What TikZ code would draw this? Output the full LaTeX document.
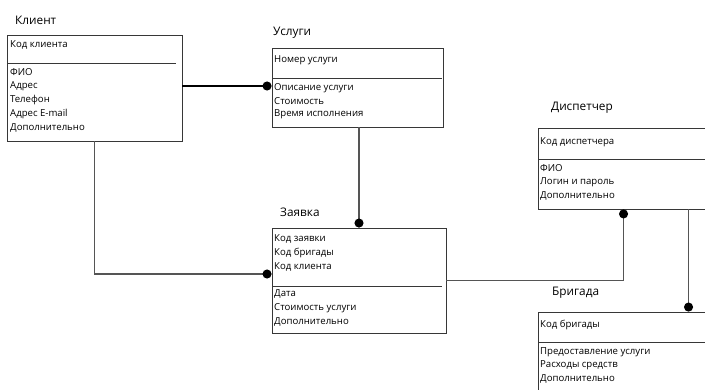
\documentclass[tikz,border=0pt]{standalone}
\usepackage{fontspec}
\setmainfont{Open Sans}
\usetikzlibrary{positioning,calc,arrows.meta}
\definecolor{linegray}{RGB}{85,85,85}
\definecolor{boxgray}{RGB}{55,55,55}

\begin{document}
\begin{tikzpicture}[x=1pt, y=-1pt,
  ent/.style={rectangle, draw=boxgray, line width=0.9pt, inner sep=0pt},
  ttl/.style={font=\fontsize{11.8}{14}\selectfont, anchor=west, inner sep=0pt},
  attr/.style={font=\fontsize{9.6}{11}\selectfont, anchor=west, inner sep=0pt},
  sepline/.style={boxgray, line width=0.9pt},
  rel/.style={linegray, line width=1.4pt},
  relthick/.style={black, line width=1.9pt},
  dotend/.style={-{Circle[length=9pt, width=9pt, black]}},
]
  \useasboundingbox (0,0) rectangle (705,389);
  \clip (0,0) rectangle (705,389);

  % entities
  \node[ent, minimum width=175pt, minimum height=106pt] (klient) at (94.5,88) {};
  \node[ent, minimum width=171pt, minimum height=79pt] (uslugi) at (357.5,87.5) {};
  \node[ent, minimum width=174pt, minimum height=105pt] (zayavka) at (359,280.5) {};
  \node[ent, minimum width=250pt, minimum height=81pt] (dispetcher) at (663,168.5) {};
  \node[ent, minimum width=250pt, minimum height=110pt] (brigada) at (663,367) {};

  % titles
  \node[ttl] (klient-t) at (15,20) {Клиент};
  \node[ttl] (uslugi-t) at (273,33) {Услуги};
  \node[ttl] (zayavka-t) at (280,212) {Заявка};
  \node[ttl] (dispetcher-t) at (551,108) {Диспетчер};
  \node[ttl] (brigada-t) at (552,293) {Бригада};

  % attributes
  \foreach \txt/\y [count=\i] in {Код клиента/45, ФИО/72, Адрес/86,
      Телефон/100, Адрес E-mail/114, Дополнительно/128}{
    \node[attr] (klient\i) at (10,\y) {\txt};
  }
  \draw[sepline] (7,63) -- (176,63);

  \foreach \txt/\y [count=\i] in {Номер услуги/60, Описание услуги/88,
      Стоимость/101, Время исполнения/114}{
    \node[attr] (uslugi\i) at (274,\y) {\txt};
  }
  \draw[sepline] (272,78) -- (442,78);

  \foreach \txt/\y [count=\i] in {Код заявки/239, Код бригады/253,
      Код клиента/267, Дата/294, Стоимость услуги/308, Дополнительно/322}{
    \node[attr] (zayavka\i) at (274,\y) {\txt};
  }
  \draw[sepline] (272,286) -- (442,286);

  \foreach \txt/\y [count=\i] in {Код диспетчера/142, ФИО/168,
      Логин и пароль/182, Дополнительно/196}{
    \node[attr] (dispetcher\i) at (540,\y) {\txt};
  }
  \draw[sepline] (538,159) -- (705,159);

  \foreach \txt/\y [count=\i] in {Код бригады/325, Предоставление услуги/352,
      Расходы средств/365, Дополнительно/379}{
    \node[attr] (brigada\i) at (540,\y) {\txt};
  }
  \draw[sepline] (538,342) -- (705,342);

  % relations
  \draw[relthick, dotend] ([yshift=2pt]klient.east) -- ([yshift=2pt]klient.east -| uslugi.west);
  \draw[rel, dotend] (zayavka.north |- uslugi.south) -- (zayavka.north);
  \draw[rel, dotend] (klient.south) |- ([yshift=6.5pt]zayavka.west);
  \draw[rel, dotend] (zayavka.east) -| ([xshift=86pt]dispetcher.south west);
  \draw[rel, dotend] ([xshift=151pt]dispetcher.south west) -- ([xshift=151pt]dispetcher.south west |- brigada.north);
\end{tikzpicture}
\end{document}
